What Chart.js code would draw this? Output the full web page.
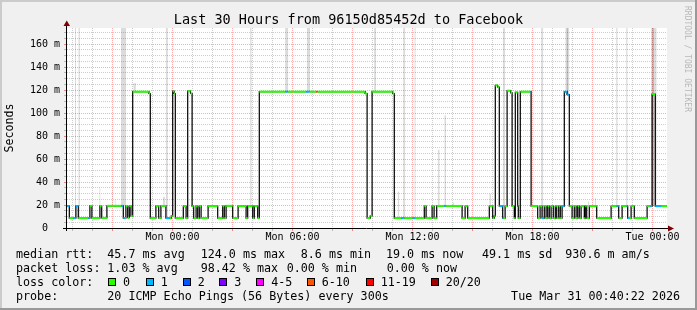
<!DOCTYPE html>
<html>
<head>
<meta charset="utf-8">
<script src="https://cdn.jsdelivr.net/npm/chart.js@4.4.1/dist/chart.umd.min.js"></script>
<style>
  html, body { margin: 0; padding: 0; background: #f0f0f0; }
  #marco { position: relative; width: 697px; height: 310px; overflow: hidden; font-family: 'DejaVu Sans Mono', monospace; color: #000; }
  #grafico { position: absolute; left: 0; top: 0; }
  .titulo { position: absolute; left: 0; top: 11px; width: 697px; text-align: center; font-size: 13.5px; line-height: 16px; white-space: pre; }
  .txt { position: absolute; font-size: 11.7px; line-height: 14px; white-space: pre; }
  .caja { position: absolute; top: 278px; width: 6px; height: 6px; border: 1px solid #000; }
  .firma { position: absolute; left: 682px; top: 6px; writing-mode: vertical-rl; font-size: 8px; line-height: 10px; color: #b8b8b8; white-space: pre; }
</style>
</head>
<body>
<div id="marco">
  <canvas id="grafico" width="697" height="310"></canvas>
  <div class="titulo">Last 30 Hours from 96150d85452d to Facebook</div>
  <div class="firma">RRDTOOL / TOBI OETIKER</div>
  <div id="leyenda"></div>
</div>
<script>
// horas relativas a Mon 00:00
const tiempoInicio = -5.275;
const tiempoFin = 24.725;

// mediana: cada valor vale desde su tiempo hasta el siguiente
const tiempoMediana = [
  -5.30, -5.16, -4.96, -4.83, -4.71, -4.21, -4.13, -4.03, -3.63, -3.54,
  -3.28, -2.56, -2.46, -2.38, -2.33, -2.24, -2.16, -2.08, -1.99, -1.18,
  -1.11, -0.83, -0.69, -0.58, -0.33, -0.14, -0.06, 0.01, 0.08, 0.14,
  0.54, 0.68, 0.76, 0.90, 0.98, 1.06, 1.18, 1.26, 1.34, 1.43,
  1.78, 2.26, 2.51, 2.59, 2.68, 3.01, 3.28, 3.68, 3.76, 4.01,
  4.09, 4.26, 4.34, 5.66, 5.76, 6.68, 6.84, 7.18, 7.24, 9.63,
  9.73, 9.89, 9.98, 11.01, 11.09, 11.43, 11.59, 12.01, 12.13, 12.59,
  12.68, 12.98, 13.08, 13.21, 13.59, 13.68, 14.48, 14.63, 14.76, 15.84,
  16.01, 16.09, 16.14, 16.26, 16.34, 16.51, 16.58, 16.63, 16.73, 16.91,
  16.98, 17.09, 17.14, 17.26, 17.29, 17.39, 17.89, 17.93, 18.26, 18.38,
  18.48, 18.59, 18.68, 18.76, 18.84, 18.93, 19.04, 19.14, 19.21, 19.31,
  19.39, 19.48, 19.59, 19.73, 19.84, 19.98, 20.09, 20.18, 20.26, 20.34,
  20.43, 20.59, 20.64, 20.71, 20.84, 21.21, 21.93, 22.21, 22.31, 22.48,
  22.71, 22.76, 22.83, 22.93, 23.09, 23.73, 23.89, 23.98, 24.14, 24.43
];
const valorMediana = [
  19.0, 8.6, 8.6, 19.0, 8.6, 8.6, 19.2, 8.6, 19.0, 8.8,
  19.3, 19.3, 8.6, 8.6, 19.0, 8.9, 19.0, 10.4, 118.6, 117.0,
  8.6, 19.0, 8.6, 19.2, 8.6, 8.6, 10.5, 119.0, 117.0, 8.6,
  19.0, 8.6, 119.0, 117.0, 19.0, 8.6, 19.0, 8.6, 19.0, 8.6,
  19.0, 8.6, 19.0, 8.6, 19.3, 8.6, 19.0, 8.6, 19.0, 8.6,
  19.0, 8.8, 118.6, 118.6, 118.6, 118.6, 118.6, 118.6, 118.6, 117.0,
  8.6, 10.5, 118.6, 117.0, 8.6, 8.6, 8.6, 8.6, 8.6, 19.0,
  8.6, 19.0, 8.6, 19.2, 19.2, 19.2, 8.6, 19.0, 8.6, 19.0,
  8.6, 10.5, 124.0, 122.5, 19.0, 8.6, 8.6, 19.0, 119.5, 117.5,
  19.0, 8.6, 118.0, 19.0, 8.6, 118.6, 118.6, 19.0, 8.6, 19.0,
  8.6, 19.0, 8.6, 19.0, 8.6, 19.0, 8.6, 19.0, 8.6, 19.0,
  8.6, 19.0, 118.6, 116.0, 19.0, 8.6, 19.0, 8.6, 19.0, 8.6,
  19.0, 8.6, 19.0, 8.6, 19.0, 8.6, 19.0, 19.0, 8.6, 19.0,
  19.0, 8.6, 8.6, 19.0, 8.6, 19.0, 19.0, 116.5, 19.0, 19.0
];
// pings perdidos (de 20) en cada tramo
const perdidaMediana = [
  1, 0, 1, 1, 0, 1, 0, 0, 0, 0,
  0, 1, 1, 0, 0, 0, 0, 0, 0, 0,
  0, 0, 0, 0, 1, 0, 0, 0, 0, 0,
  0, 0, 0, 0, 0, 0, 0, 0, 0, 0,
  0, 0, 0, 0, 0, 0, 0, 0, 0, 0,
  0, 0, 0, 1, 0, 1, 0, 8, 0, 0,
  0, 0, 0, 0, 0, 1, 0, 1, 0, 0,
  0, 0, 0, 0, 1, 0, 0, 0, 0, 0,
  0, 0, 0, 0, 1, 1, 0, 0, 0, 0,
  0, 0, 0, 0, 0, 0, 1, 0, 0, 0,
  1, 0, 0, 0, 0, 0, 0, 0, 0, 0,
  0, 1, 1, 1, 0, 0, 0, 0, 0, 0,
  0, 0, 0, 0, 0, 0, 0, 1, 0, 0,
  1, 1, 0, 0, 0, 0, 1, 0, 1, 0
];

// humo (dispersion de los pings)
const humoInicio = [-4.88, -4.71, -3.66, -3.04, -2.89, -2.58, -1.96, -0.48, -0.34, 3.88, 5.63, 6.71, 10.08, 11.26, 11.53, 12.09, 13.26, 13.59, 14.01, 15.84, 16.51, 18.43, 19.64, 19.70, 20.76, 21.13, 22.18, 22.68, 23.93, 23.98];
const humoFin = [-4.82, -4.63, -3.60, -2.99, -2.84, -2.31, -1.83, -0.38, -0.23, 3.96, 5.79, 6.88, 10.18, 11.34, 11.64, 12.16, 13.36, 13.68, 14.08, 15.94, 16.63, 18.54, 19.84, 19.78, 20.84, 21.18, 22.26, 22.76, 24.21, 24.08];
const humoBajo = [8.6, 8.6, 19, 19, 19, 19, 118.6, 19, 8.6, 19, 118.6, 118.6, 118.6, 8.6, 8.6, 8.6, 19, 19, 19, 19, 19, 8.6, 116, 116, 19, 19, 19, 19, 19, 19];
const humoAlto = [174, 174, 35, 33, 25, 174, 126, 27, 174, 174, 174, 174, 174, 31.5, 174, 174, 68, 98, 22, 30, 174, 174, 174, 174, 23, 26, 174, 174, 174, 174];

const posEtiquetasX = [0, 6, 12, 18, 24];
const etiquetasX = ['Mon 00:00', 'Mon 06:00', 'Mon 12:00', 'Mon 18:00', 'Tue 00:00'];
const posEtiquetasY = [0, 20, 40, 60, 80, 100, 120, 140, 160];
const etiquetasY = ['0  ', '20 m', '40 m', '60 m', '80 m', '100 m', '120 m', '140 m', '160 m'];

const coloresPerdida = [
  [0, '0', '#26ff00'], [1, '1', '#00b8ff'], [2, '2', '#0059ff'], [3, '3', '#7e00ff'],
  [5, '4-5', '#ff00ff'], [10, '6-10', '#ff5500'], [19, '11-19', '#ff0000'], [20, '20/20', '#a00000']
];

const filasLeyenda = [
  [[16, 'median rtt:'], [107.3, '45.7 ms avg'], [200.7, '124.0 ms max'], [286.7, '  8.6 ms min'], [386, '19.0 ms now'], [482, '49.1 ms sd'], [565.3, '930.6 m am/s']],
  [[16, 'packet loss:'], [107.3, '1.03 % avg'], [200.7, '98.42 % max'], [286.7, '0.00 % min'], [386.7, '0.00 % now']],
  [[16, 'loss color:']],
  [[16, 'probe:'], [107.3, '20 ICMP Echo Pings (56 Bytes) every 300s']]
];
const posCajas = [108, 145.7, 182.7, 219.3, 256.3, 306.7, 365.7, 430.7];
const fechaGrafico = 'Tue Mar 31 00:40:22 2026';

function colorPerdida(p) {
    for (const c of coloresPerdida) {
        if (p <= c[0]) return c[2];
    }
    return '#a00000';
}

function armarLeyenda() {
    const cont = document.getElementById('leyenda');
    let html = '';
    filasLeyenda.forEach((fila, i) => {
        const top = 247 + i * 14;
        fila.forEach(([x, texto]) => {
            html += `<div class="txt" style="left:${x}px;top:${top}px">${texto}</div>`;
        });
    });
    coloresPerdida.forEach((c, i) => {
        html += `<div class="caja" style="left:${posCajas[i]}px;background:${c[2]}"></div>`;
        html += `<div class="txt" style="left:${posCajas[i] + 15}px;top:275px">${c[1]}</div>`;
    });
    html += `<div class="txt" style="right:17px;top:289px">${fechaGrafico}</div>`;
    cont.innerHTML = html;
}

const fondo = {
    id: 'fondo',
    beforeDraw(chart) {
        const { ctx, chartArea: a, width, height } = chart;
        ctx.save();
        ctx.fillStyle = '#f0f0f0';
        ctx.fillRect(0, 0, width, height);
        ctx.fillStyle = '#cbcbcb';
        ctx.fillRect(0, 0, width, 2);
        ctx.fillRect(0, 0, 2, height);
        ctx.fillStyle = '#999999';
        ctx.fillRect(0, height - 2, width, 2);
        ctx.fillRect(width - 2, 0, 2, height);
        ctx.fillStyle = '#ffffff';
        ctx.fillRect(a.left, a.top, a.right - a.left, a.bottom - a.top);
        ctx.restore();
    },
    afterDatasetsDraw(chart) {
        const { ctx, chartArea: a } = chart;
        ctx.save();
        ctx.strokeStyle = '#000';
        ctx.lineWidth = 1;
        ctx.beginPath();
        ctx.moveTo(a.left - 0.5, a.bottom + 3);
        ctx.lineTo(a.left - 0.5, a.top - 4);
        ctx.moveTo(a.left - 4, a.bottom + 0.5);
        ctx.lineTo(a.right + 3, a.bottom + 0.5);
        ctx.stroke();
        // flechas
        ctx.fillStyle = '#7f0000';
        ctx.beginPath();
        ctx.moveTo(a.left - 3.5, a.top - 2);
        ctx.lineTo(a.left + 3, a.top - 2);
        ctx.lineTo(a.left - 0.25, a.top - 7.5);
        ctx.closePath();
        ctx.fill();
        ctx.beginPath();
        ctx.moveTo(a.right + 1, a.bottom - 2.5);
        ctx.lineTo(a.right + 1, a.bottom + 3.5);
        ctx.lineTo(a.right + 7, a.bottom + 0.5);
        ctx.closePath();
        ctx.fill();
        ctx.restore();
    }
};

function iniciar() {
    armarLeyenda();

    const tramos = [];
    tiempoMediana.forEach((t, i) => {
        const t2 = i + 1 < tiempoMediana.length ? tiempoMediana[i + 1] : tiempoFin + 0.1;
        tramos.push({ x: t, y: valorMediana[i], p: perdidaMediana[i] });
        tramos.push({ x: t2, y: valorMediana[i], p: perdidaMediana[i] });
        tramos.push({ x: t2, y: null, p: 0 });
    });

    const linea = tiempoMediana.map((t, i) => ({ x: t, y: valorMediana[i] }));
    linea.push({ x: tiempoFin + 0.1, y: valorMediana[valorMediana.length - 1] });

    const humo = humoInicio.map((t, i) => ({
        data: [{ x: t, y: humoAlto[i] }, { x: humoFin[i], y: humoAlto[i] }],
        fill: { value: humoBajo[i] },
        backgroundColor: 'rgba(0,0,0,0.14)',
        borderColor: 'rgba(0,0,0,0)',
        borderWidth: 0,
        pointRadius: 0,
        order: 2
    }));

    const horas = [];
    for (let h = Math.ceil(tiempoInicio); h <= tiempoFin; h++) horas.push(h);
    const pasosY = [];
    for (let v = 0; v <= 170; v += 5) pasosY.push(v);

    const fuenteEje = { family: 'DejaVu Sans Mono', size: 10 };
    const mayorX = v => v % 3 === 0;
    const mayorY = v => v % 20 === 0;

    const ctx = document.getElementById('grafico').getContext('2d');
    new Chart(ctx, {
        type: 'line',
        data: {
            datasets: [
                {
                    data: tramos,
                    borderColor: '#26ff00',
                    borderWidth: 2,
                    pointRadius: 0,
                    spanGaps: false,
                    fill: false,
                    order: 0,
                    segment: { borderColor: c => colorPerdida(tramos[c.p0DataIndex].p) }
                },
                {
                    data: linea,
                    stepped: true,
                    borderColor: '#000000',
                    borderWidth: 1.2,
                    pointRadius: 0,
                    fill: false,
                    order: 1
                },
                ...humo
            ]
        },
        options: {
            responsive: false,
            animation: false,
            devicePixelRatio: 1,
            events: [],
            layout: { padding: { top: 28, right: 30, left: 0, bottom: 0 } },
            plugins: { legend: { display: false }, tooltip: { enabled: false }, title: { display: false } },
            scales: {
                x: {
                    type: 'linear',
                    min: tiempoInicio,
                    max: tiempoFin,
                    afterBuildTicks: s => { s.ticks = horas.map(v => ({ value: v })); },
                    afterFit: s => { s.height = 82; },
                    grid: {
                        color: c => mayorX(c.tick.value) ? 'rgba(255,0,0,0.33)' : 'rgba(130,130,130,0.4)',
                        tickColor: c => mayorX(c.tick.value) ? 'rgba(255,0,0,0.45)' : 'rgba(130,130,130,0.5)',
                        lineWidth: 1,
                        drawTicks: true,
                        tickLength: 3
                    },
                    border: { display: false, dash: [1, 1] },
                    ticks: {
                        autoSkip: false,
                        maxRotation: 0,
                        padding: 0,
                        color: '#000',
                        font: fuenteEje,
                        callback: v => {
                            const i = posEtiquetasX.indexOf(v);
                            return i >= 0 ? etiquetasX[i] : '';
                        }
                    }
                },
                y: {
                    type: 'linear',
                    min: 0,
                    max: 174,
                    afterBuildTicks: s => { s.ticks = pasosY.map(v => ({ value: v })); },
                    afterFit: s => { s.width = 67; },
                    grid: {
                        color: c => mayorY(c.tick.value) ? 'rgba(255,0,0,0.33)' : 'rgba(130,130,130,0.4)',
                        tickColor: c => mayorY(c.tick.value) ? 'rgba(255,0,0,0.45)' : 'rgba(130,130,130,0.5)',
                        lineWidth: 1,
                        drawTicks: true,
                        tickLength: 3
                    },
                    border: { display: false, dash: [1, 1] },
                    title: {
                        display: true,
                        text: 'Seconds',
                        color: '#000',
                        font: { family: 'DejaVu Sans Mono', size: 11.6 },
                        padding: { top: 3, bottom: 0 }
                    },
                    ticks: {
                        autoSkip: false,
                        padding: 4,
                        color: '#000',
                        font: fuenteEje,
                        callback: v => {
                            const i = posEtiquetasY.indexOf(v);
                            return i >= 0 ? etiquetasY[i] : '';
                        }
                    }
                }
            }
        },
        plugins: [fondo]
    });
}

document.addEventListener('DOMContentLoaded', iniciar);
</script>
</body>
</html>
